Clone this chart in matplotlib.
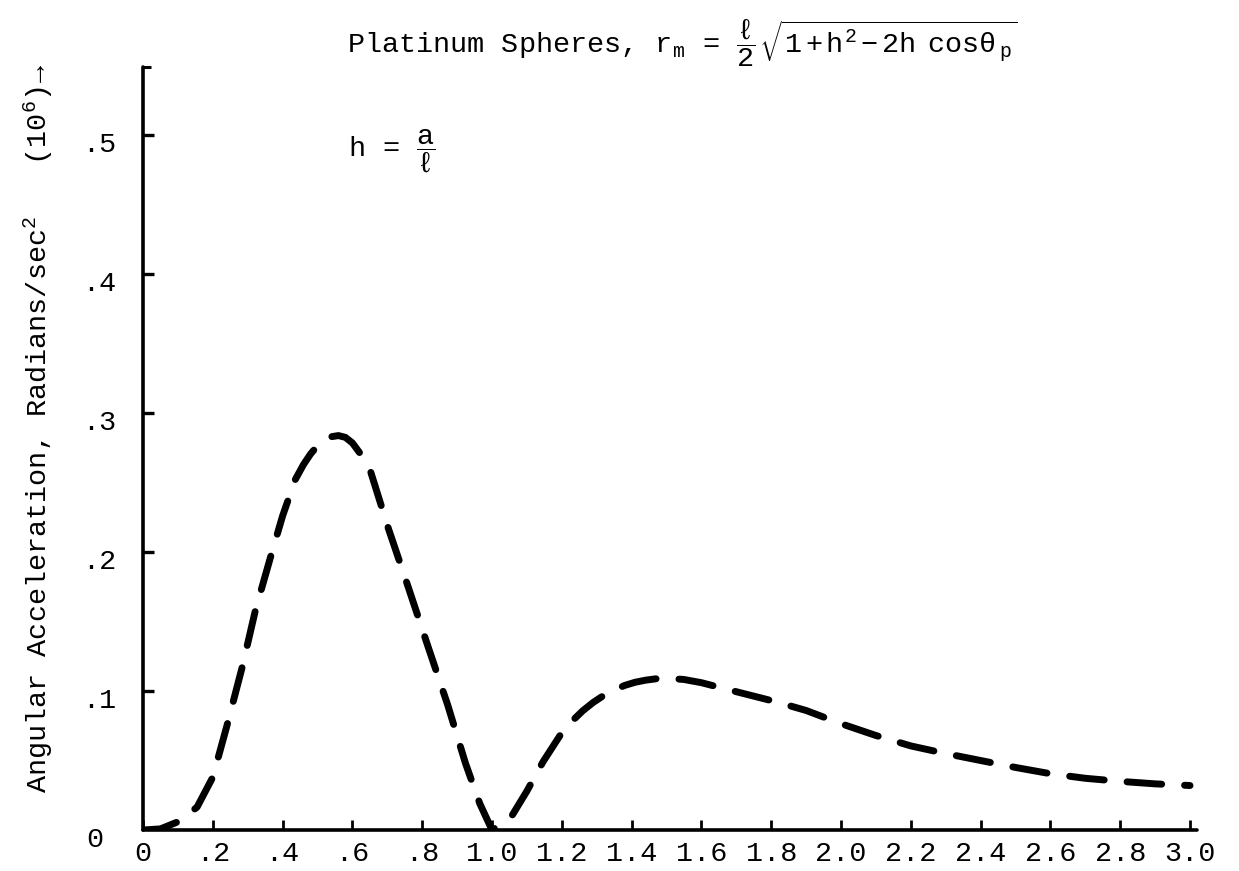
import matplotlib
matplotlib.use("Agg")
import matplotlib.pyplot as plt
from matplotlib.transforms import ScaledTranslation

# ---- data ----
x_vals = [0.0, 0.05, 0.106, 0.155, 0.20, 0.241, 0.284, 0.322, 0.365, 0.40,
          0.436, 0.46, 0.48, 0.50, 0.52, 0.54, 0.56, 0.58, 0.60, 0.625,
          0.652, 0.703, 0.761, 0.818, 0.873, 0.924, 0.965, 1.0, 1.054, 1.10,
          1.146, 1.20, 1.23, 1.26, 1.29, 1.32, 1.35, 1.38, 1.41, 1.44,
          1.47, 1.51, 1.55, 1.60, 1.70, 1.81, 1.90, 2.00, 2.10, 2.20,
          2.30, 2.40, 2.50, 2.60, 2.70, 2.80, 2.90, 3.00]
y_vals = [0.0, 0.0008, 0.0065, 0.0165, 0.038, 0.0755, 0.117, 0.158, 0.196, 0.226,
          0.252, 0.263, 0.2705, 0.2765, 0.2805, 0.283, 0.2838, 0.2825, 0.2785, 0.270,
          0.258, 0.217, 0.174, 0.131, 0.090, 0.048, 0.019, 0.0, 0.009, 0.028,
          0.049, 0.070, 0.0785, 0.0858, 0.0918, 0.0968, 0.1008, 0.1040, 0.1063, 0.1078,
          0.1088, 0.1090, 0.1083, 0.1060, 0.0995, 0.0925, 0.0860, 0.0765, 0.0680, 0.0605,
          0.0550, 0.0500, 0.0450, 0.0405, 0.0372, 0.0350, 0.0332, 0.0320]

x_ticks = [0.0, 0.2, 0.4, 0.6, 0.8, 1.0, 1.2, 1.4, 1.6, 1.8, 2.0, 2.2, 2.4, 2.6, 2.8, 3.0]
x_tick_labels = ["0", ".2", ".4", ".6", ".8", "1.0", "1.2", "1.4", "1.6", "1.8",
                 "2.0", "2.2", "2.4", "2.6", "2.8", "3.0"]
y_ticks = [0.1, 0.2, 0.3, 0.4, 0.5]
y_tick_labels = [".1", ".2", ".3", ".4", ".5"]

title_text = (r"Platinum Spheres, r$_{\mathrm{m}}$ = "
              r"$\dfrac{\ell}{2}\,\sqrt{1+h^2-2h\ \ \mathrm{cos}\theta_{\ \mathrm{p}}}$")
h_text = r"h = $\dfrac{a}{\ell}$"
y_label = r"Angular Acceleration, Radians/sec$^2$   (10$^6$)→"

# ---- style ----
FONT = "Liberation Mono"
FS = 20.5
plt.rcParams["font.family"] = [FONT, "DejaVu Sans Mono"]
plt.rcParams["mathtext.fontset"] = "custom"
plt.rcParams["mathtext.rm"] = FONT
plt.rcParams["mathtext.it"] = FONT
plt.rcParams["mathtext.bf"] = FONT + ":bold"
plt.rcParams["mathtext.sf"] = FONT
plt.rcParams["mathtext.tt"] = FONT

W, H = 1239, 871
fig = plt.figure(figsize=(W / 100, H / 100), dpi=100)
ax = fig.add_axes([143 / W, (H - 830) / H, (1197 - 143) / W, (830 - 67) / H])

ax.plot(x_vals, y_vals, color="black", lw=5, linestyle=(0, (5.0, 3.3)),
        dash_capstyle="round", solid_capstyle="round", dash_joinstyle="round")

ax.set_xlim(0, 3.02)
ax.set_ylim(0, 0.549)

for s in ["top", "right"]:
    ax.spines[s].set_visible(False)
for s in ["left", "bottom"]:
    ax.spines[s].set_linewidth(2.6)
    ax.spines[s].set_capstyle("round")

ax.set_xticks(x_ticks)
ax.set_xticklabels(x_tick_labels, fontsize=FS)
ax.set_yticks(y_ticks)
ax.set_yticklabels(y_tick_labels, fontsize=FS)
ax.set_yticks([0.549], minor=True)
ax.tick_params(axis="y", which="minor", direction="in", length=6, width=2.2)
ax.tick_params(axis="x", direction="in", length=7, width=2.0, pad=8)
ax.tick_params(axis="y", which="major", direction="in", length=8, width=2.4, pad=19)

shift = ScaledTranslation(0, -0.07, fig.dpi_scale_trans)
for lab in ax.get_yticklabels():
    lab.set_transform(lab.get_transform() + shift)

ax.annotate("0", xy=(0, 0), xytext=(-34.5, -7), textcoords="offset points",
            ha="center", va="center", fontsize=FS)

fig.text(347 / W, (H - 53) / H, title_text, ha="left", va="baseline", fontsize=FS)
fig.text(348 / W, (H - 157) / H, h_text, ha="left", va="baseline", fontsize=FS)
fig.text(38 / W, (H - 428) / H, y_label, rotation=90, ha="center", va="center", fontsize=FS)

fig.savefig("out.png", dpi=100, facecolor="white")
